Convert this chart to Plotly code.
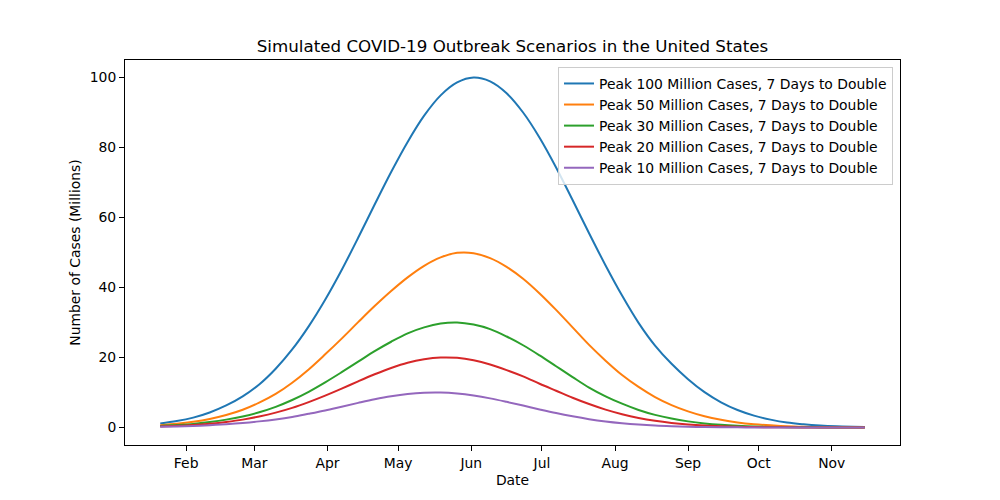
import plotly.graph_objects as go
import pandas as pd

dates = ["2020-01-21", "2020-01-28", "2020-02-04", "2020-02-11", "2020-02-18", "2020-02-25",
         "2020-03-03", "2020-03-10", "2020-03-17", "2020-03-24", "2020-03-31", "2020-04-07",
         "2020-04-14", "2020-04-21", "2020-04-28", "2020-05-05", "2020-05-12", "2020-05-19",
         "2020-05-26", "2020-06-02", "2020-06-09", "2020-06-16", "2020-06-23", "2020-06-30",
         "2020-07-07", "2020-07-14", "2020-07-21", "2020-07-28", "2020-08-04", "2020-08-11",
         "2020-08-18", "2020-08-25", "2020-09-01", "2020-09-08", "2020-09-15", "2020-09-22",
         "2020-09-29", "2020-10-06", "2020-10-13", "2020-10-20", "2020-10-27", "2020-11-03",
         "2020-11-10", "2020-11-15"]

peak_100 = [1.16, 1.83, 2.82, 4.3, 6.3, 8.9, 12.3, 16.8, 22.3, 28.9, 36.5, 45.0,
            54.2, 63.7, 73.0, 81.6, 89.1, 94.9, 98.6, 100.0, 98.9, 95.5, 90.0, 82.8,
            74.3, 65.0, 55.5, 46.3, 37.7, 29.9, 23.4, 18.2, 13.8, 10.1, 7.2, 5.0,
            3.4, 2.25, 1.4, 0.9, 0.55, 0.33, 0.2, 0.14]
peak_50 = [0.67, 1.05, 1.62, 2.43, 3.55, 5.06, 7.1, 9.6, 12.8, 16.6, 20.9, 25.4,
           30.1, 34.7, 39.0, 42.9, 46.2, 48.6, 49.9, 49.8, 48.4, 45.9, 42.5, 38.3,
           33.6, 28.6, 23.6, 19.1, 15.0, 11.6, 8.7, 6.4, 4.6, 3.2, 2.2, 1.45,
           0.95, 0.62, 0.38, 0.23, 0.13, 0.07, 0.04, 0.03]
peak_30 = [0.45, 0.68, 1.0, 1.55, 2.25, 3.15, 4.35, 5.9, 7.85, 10.2, 12.9, 15.8,
           18.8, 21.8, 24.5, 26.9, 28.6, 29.7, 30.0, 29.4, 28.1, 26.0, 23.5, 20.6,
           17.5, 14.4, 11.4, 8.9, 6.8, 5.0, 3.6, 2.55, 1.75, 1.17, 0.76, 0.48,
           0.29, 0.17, 0.1, 0.06, 0.03, 0.02, 0.01, 0.0]
peak_20 = [0.3, 0.47, 0.72, 1.1, 1.6, 2.25, 3.15, 4.25, 5.6, 7.25, 9.1, 11.1,
           13.2, 15.2, 17.0, 18.5, 19.5, 20.0, 19.9, 19.2, 18.0, 16.4, 14.6, 12.5,
           10.5, 8.5, 6.7, 5.1, 3.8, 2.74, 1.92, 1.31, 0.86, 0.55, 0.35, 0.21,
           0.12, 0.07, 0.04, 0.02, 0.01, 0.0, 0.0, 0.0]
peak_10 = [0.2, 0.3, 0.45, 0.66, 0.95, 1.3, 1.75, 2.3, 3.0, 3.9, 4.86, 5.95,
           7.03, 8.05, 8.92, 9.57, 9.93, 9.98, 9.70, 9.13, 8.32, 7.33, 6.26, 5.17,
           4.13, 3.20, 2.39, 1.73, 1.22, 0.83, 0.54, 0.35, 0.21, 0.13, 0.07, 0.04,
           0.02, 0.01, 0.0, 0.0, 0.0, 0.0, 0.0, 0.0]

series_names = ["Peak 100 Million Cases, 7 Days to Double",
                "Peak 50 Million Cases, 7 Days to Double",
                "Peak 30 Million Cases, 7 Days to Double",
                "Peak 20 Million Cases, 7 Days to Double",
                "Peak 10 Million Cases, 7 Days to Double"]
series_values = [peak_100, peak_50, peak_30, peak_20, peak_10]
colors = ["#1f77b4", "#ff7f0e", "#2ca02c", "#d62728", "#9467bd"]

tick_dates = ["2020-02-01", "2020-03-01", "2020-04-01", "2020-05-01", "2020-06-01",
              "2020-07-01", "2020-08-01", "2020-09-01", "2020-10-01", "2020-11-01"]
tick_labels = ["Feb", "Mar", "Apr", "May", "Jun", "Jul", "Aug", "Sep", "Oct", "Nov"]
y_ticks = [0, 20, 40, 60, 80, 100]

x = pd.to_datetime(dates)
fig = go.Figure()
for name, vals, col in zip(series_names, series_values, colors):
    fig.add_trace(go.Scatter(x=x, y=vals, mode="lines", name=name,
                             line=dict(color=col, width=2, shape="spline", smoothing=1.0)))

span = x.max() - x.min()
xr = [x.min() - span * 0.05, x.max() + span * 0.05]

font = "DejaVu Sans"
fs = 13.9
fig.update_layout(
    width=1000, height=500,
    margin=dict(l=125, r=100, t=60, b=55),
    paper_bgcolor="white", plot_bgcolor="white",
    font=dict(family=font, size=fs, color="black"),
    title=dict(text="Simulated COVID-19 Outbreak Scenarios in the United States",
               x=0.5125, xanchor="center", y=1 - 46 / 500, yanchor="middle",
               font=dict(size=16.7, family=font, color="black")),
    legend=dict(x=0.991, y=0.982, xanchor="right", yanchor="top",
                bgcolor="rgba(255,255,255,0.8)", bordercolor="#cccccc", borderwidth=1,
                font=dict(size=fs, family=font, color="black"), tracegroupgap=0),
    showlegend=True,
)
fig.update_xaxes(range=xr, tickvals=pd.to_datetime(tick_dates), ticktext=tick_labels,
                 showgrid=False, zeroline=False, showline=True, mirror=True,
                 linecolor="black", linewidth=1, ticks="outside", ticklen=5,
                 tickcolor="black", tickfont=dict(size=fs), automargin=False,
                 title=dict(text="Date", font=dict(size=fs), standoff=5))
fig.update_yaxes(range=[-5, 105], tickvals=y_ticks, ticktext=[str(v) for v in y_ticks],
                 showgrid=False, zeroline=False, showline=True, mirror=True,
                 linecolor="black", linewidth=1, ticks="outside", ticklen=5,
                 tickcolor="black", tickfont=dict(size=fs), automargin=False,
                 title=dict(text="Number of Cases (Millions)", font=dict(size=fs), standoff=5))

fig.write_html("out.html", config={"displayModeBar": False},
               post_script="document.body.style.margin='0';")
